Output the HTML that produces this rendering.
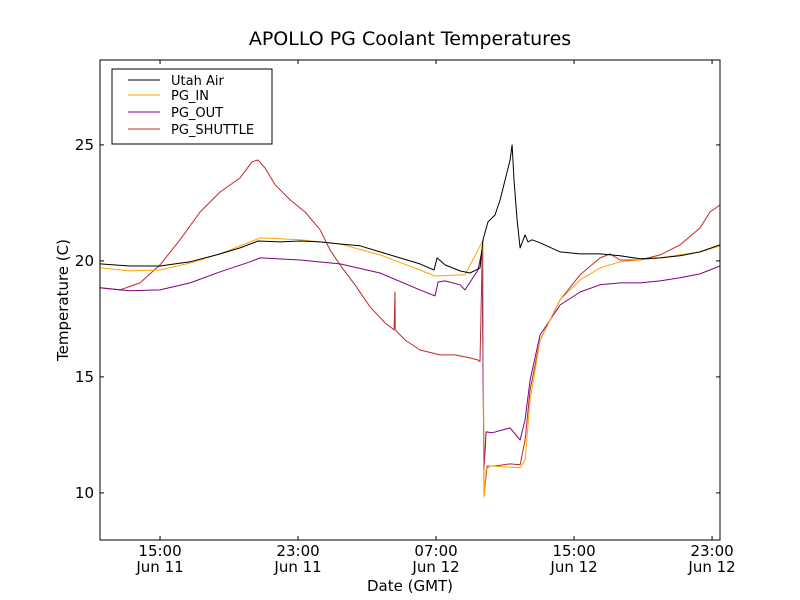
<!DOCTYPE html>
<html><head><meta charset="utf-8"><style>
body{margin:0;background:#fff;}
svg{display:block;font-family:"DejaVu Sans","Liberation Sans",sans-serif;}
</style></head><body>
<svg id="chart" width="800" height="600"></svg>
<script>
const xTickHours=[15,23,31,39,47];
const xTickTimes=["15:00","23:00","07:00","15:00","23:00"];
const xTickDates=["Jun 11","Jun 11","Jun 12","Jun 12","Jun 12"];
const yTicks=[10,15,20,25];
const seriesNames=["Utah Air","PG_IN","PG_OUT","PG_SHUTTLE"];
const seriesColors=["#000000","#ffa500","#800080","#c0282a"];
const airH=[11.52,13.26,15,16.74,18.48,19.64,20.68,21.96,23.12,24.28,25.43,26.59,27.75,28.91,30.07,30.88,31.06,31.52,32.39,32.97,33.55,33.72,34.01,34.42,34.71,35.0,35.29,35.41,35.52,35.7,35.87,36.16,36.33,36.57,37.03,38.19,39.35,40.51,41.67,42.83,43.99,45.14,46.3,47.46];
const airT=[19.87,19.78,19.78,19.96,20.3,20.56,20.86,20.82,20.86,20.82,20.73,20.65,20.39,20.13,19.87,19.61,20.13,19.83,19.57,19.48,19.7,20.91,21.68,21.98,22.63,23.49,24.35,25.0,23.49,21.77,20.56,21.12,20.82,20.91,20.78,20.39,20.3,20.3,20.22,20.09,20.13,20.22,20.39,20.69];
const inH=[11.52,13.26,15,16.74,18.48,20.8,23.12,25.43,27.75,30.07,30.94,32.68,33.43,33.72,33.78,33.9,34.13,35.87,36.16,36.45,37.03,38.19,39.35,40.51,41.67,42.83,43.99,45.14,46.3,47.46];
const inT=[19.7,19.57,19.61,19.91,20.3,20.99,20.91,20.73,20.26,19.61,19.35,19.4,20.47,20.91,9.83,10.99,11.16,11.08,11.42,14.0,16.59,18.32,19.18,19.7,19.96,20.04,20.13,20.26,20.39,20.65];
const outH=[11.52,13.26,15,16.74,18.48,20.22,20.8,23.12,25.43,27.75,30.07,30.94,31.12,31.52,32.39,32.68,33.43,33.67,33.78,33.9,34.25,35.29,35.87,36.16,36.45,37.03,38.19,39.35,40.51,41.67,42.83,43.99,45.14,46.3,47.46];
const outT=[18.84,18.71,18.75,19.05,19.53,19.96,20.13,20.04,19.87,19.48,18.75,18.49,19.09,19.14,18.97,18.75,19.61,20.47,11.0,12.63,12.59,12.8,12.28,13.15,14.87,16.81,18.1,18.66,18.97,19.05,19.05,19.14,19.27,19.44,19.78];
const shH=[11.52,12.68,13.84,15,16.16,17.32,18.48,19.64,20.33,20.68,21.09,21.67,22.54,23.41,24.28,24.86,25.43,26.3,27.17,28.04,28.57,28.62,28.63,29.2,30.07,31.23,32.1,32.97,33.43,33.55,33.67,33.72,33.78,33.96,34.42,35.29,35.87,36.16,36.45,37.03,38.19,39.35,40.51,41.09,41.67,42.83,43.99,45.14,46.3,46.88,47.46];
const shT=[18.84,18.75,19.05,19.83,20.91,22.11,22.97,23.58,24.27,24.35,24.0,23.28,22.63,22.11,21.34,20.47,19.83,18.97,18.02,17.33,17.03,18.66,17.03,16.59,16.16,15.95,15.95,15.82,15.73,15.65,20.04,16.16,9.83,11.16,11.16,11.25,11.21,12.28,14.44,16.59,18.32,19.4,20.13,20.3,20.04,20.04,20.26,20.69,21.42,22.11,22.41];
const L=100,R=720,T=60,B=540,X0=11.52,X1=47.46,Y0=7.97,Y1=28.66;
const sx=h=>L+(h-X0)/(X1-X0)*(R-L);
const sy=v=>B-(v-Y0)/(Y1-Y0)*(B-T);
const svg=document.getElementById('chart');const NS='http://www.w3.org/2000/svg';
function mk(tag,attrs,parent){const e=document.createElementNS(NS,tag);for(const k in attrs)e.setAttribute(k,attrs[k]);(parent||svg).appendChild(e);return e;}
const cp=mk('clipPath',{id:'cp'});mk('rect',{x:L,y:T,width:R-L,height:B-T},cp);
const seriesH=[airH,inH,outH,shH],seriesT=[airT,inT,outT,shT];
const order=[3,2,1,0];
order.forEach(i=>{
 const d=seriesH[i].map((h,j)=>(j?'L':'M')+sx(h).toFixed(1)+','+sy(seriesT[i][j]).toFixed(1)).join('');
 const p=mk('path',{d:d,fill:'none',stroke:seriesColors[i],'stroke-width':1,'stroke-linejoin':'round','clip-path':'url(#cp)'});
 
 
});
const frame=mk('rect',{x:L,y:T,width:R-L,height:B-T,fill:'none',stroke:'#000','stroke-width':1});


xTickHours.forEach((h,i)=>{const x=sx(h);
 mk('line',{x1:x,x2:x,y1:B,y2:B-4,stroke:'#000'});mk('line',{x1:x,x2:x,y1:T,y2:T+4,stroke:'#000'});
 const t=mk('text',{x:x,y:B+16,'text-anchor':'middle','font-size':15});t.textContent=xTickTimes[i];
 
 
 const t2=mk('text',{x:x,y:B+32,'text-anchor':'middle','font-size':15});t2.textContent=xTickDates[i];
 
 
});
yTicks.forEach(v=>{const y=sy(v);
 mk('line',{x1:L,x2:L+4,y1:y,y2:y,stroke:'#000'});mk('line',{x1:R,x2:R-4,y1:y,y2:y,stroke:'#000'});
 const t=mk('text',{x:L-6,y:y+5,'text-anchor':'end','font-size':15});t.textContent=v;
 
 
});
const title=mk('text',{x:410,y:45,'text-anchor':'middle','font-size':19});title.textContent='APOLLO PG Coolant Temperatures';


const xl=mk('text',{x:410,y:591,'text-anchor':'middle','font-size':15});xl.textContent='Date (GMT)';


const yl=mk('text',{x:68,y:300,'text-anchor':'middle','font-size':15,transform:'rotate(-90 68 300)'});yl.textContent='Temperature (C)';


const lg=mk('g',{});


mk('rect',{x:112,y:69,width:160,height:75,fill:'#fff',stroke:'#000'},lg);
const rowY=[80,95,112,129];
seriesNames.forEach((n,i)=>{
 mk('line',{x1:128,x2:160,y1:rowY[i],y2:rowY[i],stroke:seriesColors[i]},lg);
 const t=mk('text',{x:171,y:rowY[i]+5,'font-size':13},lg);t.textContent=n;
 
 
});
</script>
</body></html>
